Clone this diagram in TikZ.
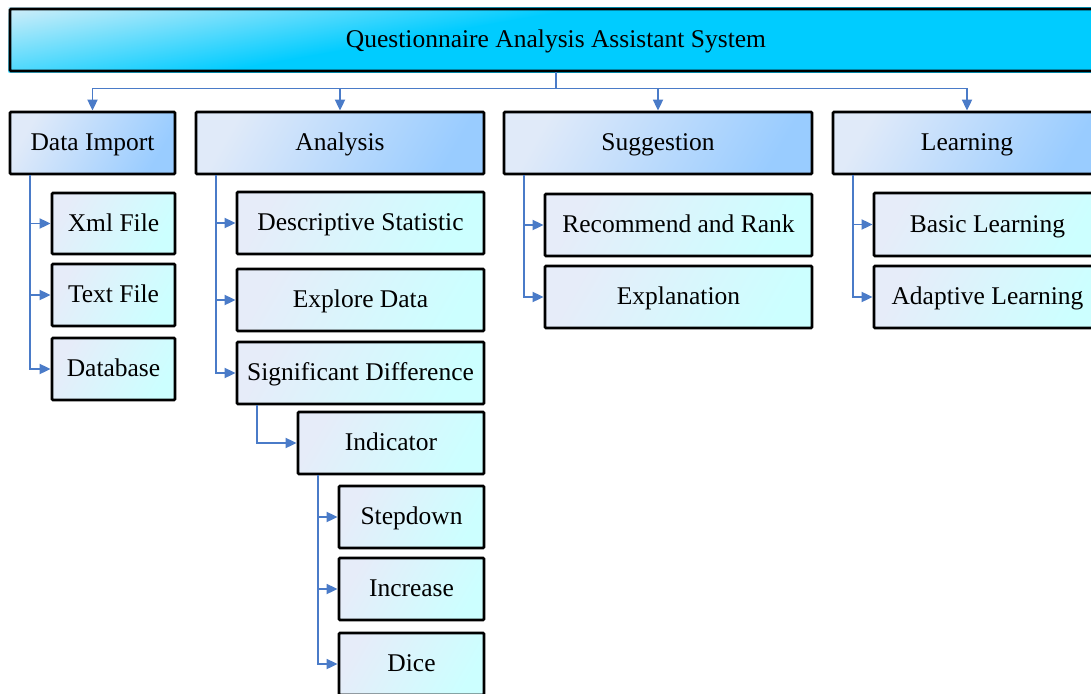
\documentclass[tikz,border=0pt]{standalone}
\usepackage{fontspec}
\setmainfont{Liberation Serif}
\usetikzlibrary{arrows.meta,calc,backgrounds}

\definecolor{rootlight}{HTML}{C6ECF9}
\definecolor{rootdark}{HTML}{00CCFF}
\definecolor{catlight}{HTML}{E0EAF9}
\definecolor{catdark}{HTML}{99CCFF}
\definecolor{leaflight}{HTML}{E6ECF9}
\definecolor{leafdark}{HTML}{CCFFFF}
\definecolor{linkblue}{HTML}{4A7BC8}

\tikzset{
  box/.style={draw=black, line width=2.8pt, rounded corners=1pt,
    inner sep=0pt, font=\fontsize{25.5}{30}\selectfont, text=black,
    text height=18pt, text depth=3pt},
  rootbox/.style={box, minimum height=62pt},
  catbox/.style={box, top color=catlight, bottom color=catdark,
    shading angle=60, minimum height=62pt},
  leafbox/.style={box, top color=leaflight, bottom color=leafdark,
    shading angle=60, minimum height=62pt},
  link/.style={draw=linkblue, line width=1.8pt,
    -{Triangle[length=11pt,width=10pt]}},
}

\begin{document}
\begin{tikzpicture}[x=1pt,y=-1pt]
\useasboundingbox (0,0) rectangle (1091,693);
\clip (0,0) rectangle (1091,693);

% root
\node[rootbox, minimum width=1092pt] (root) at (556,40)
  {Questionnaire Analysis Assistant System};

% tilted light-to-cyan fill of the title bar
\begin{scope}[on background layer]
  \fill[white] (0,0) rectangle (1091,693);
  \clip (root.north west) rectangle (root.south east);
  \begin{scope}[transform canvas={rotate around={10:(root.north west)}}]
    \fill[rootlight] ($(root.north west)+(-300,-400)$) rectangle ($(root.north west)+(1400,12)$);
    \fill[rootdark] ($(root.north west)+(-300,90)$) rectangle ($(root.north west)+(1400,500)$);
    \shade[top color=rootlight, bottom color=rootdark]
      ($(root.north west)+(-300,5)$) rectangle ($(root.north west)+(1400,100)$);
  \end{scope}
\end{scope}

% main modules
\node[catbox, minimum width=165pt] (dimp) at (92.5,143) {Data Import};
\node[catbox, minimum width=288pt] (ana)  at (340,143)  {Analysis};
\node[catbox, minimum width=308pt] (sug)  at (658,143)  {Suggestion};
\node[catbox, minimum width=268pt] (lea)  at (967,143)  {Learning};

% data import
\node[leafbox, minimum width=123pt, minimum height=61pt] (xml) at (113.5,223.5) {Xml File};
\node[leafbox, minimum width=123pt] (txt) at (113.5,295) {Text File};
\node[leafbox, minimum width=123pt] (db)  at (113.5,369) {Database};

% analysis
\node[leafbox, minimum width=247pt] (desc) at (360.5,223) {Descriptive Statistic};
\node[leafbox, minimum width=247pt] (expl) at (360.5,300) {Explore Data};
\node[leafbox, minimum width=247pt] (sig)  at (360.5,373) {Significant Difference};
\node[leafbox, minimum width=186pt] (ind)  at (391,443)   {Indicator};
\node[leafbox, minimum width=145pt] (stp)  at (411.5,517) {Stepdown};
\node[leafbox, minimum width=145pt] (inc)  at (411.5,589) {Increase};
\node[leafbox, minimum width=145pt] (dice) at (411.5,664) {Dice};

% suggestion
\node[leafbox, minimum width=267pt] (rec)  at (678.5,225) {Recommend and Rank};
\node[leafbox, minimum width=267pt] (expn) at (678.5,297) {Explanation};

% learning
\node[leafbox, minimum width=227pt, minimum height=63pt] (basic) at (987.5,224.5) {Basic Learning};
\node[leafbox, minimum width=227pt] (adapt) at (987.5,297) {Adaptive Learning};

% root to modules
\coordinate (bus) at ($(root.south)+(0,16)$);
\draw[draw=linkblue, line width=1.8pt] (root.south) -- (bus);
\foreach \m in {dimp,ana,sug,lea}
  \draw[link] (bus) -| (\m.north);

% modules to sub-items
\foreach \p/\c in {dimp/xml,dimp/txt,dimp/db,
                   ana/desc,ana/expl,ana/sig,
                   sug/rec,sug/expn,
                   lea/basic,lea/adapt,
                   sig/ind,
                   ind/stp,ind/inc,ind/dice}
  \draw[link] ([xshift=21pt]\p.south west) |- (\c.west);
\end{tikzpicture}
\end{document}
